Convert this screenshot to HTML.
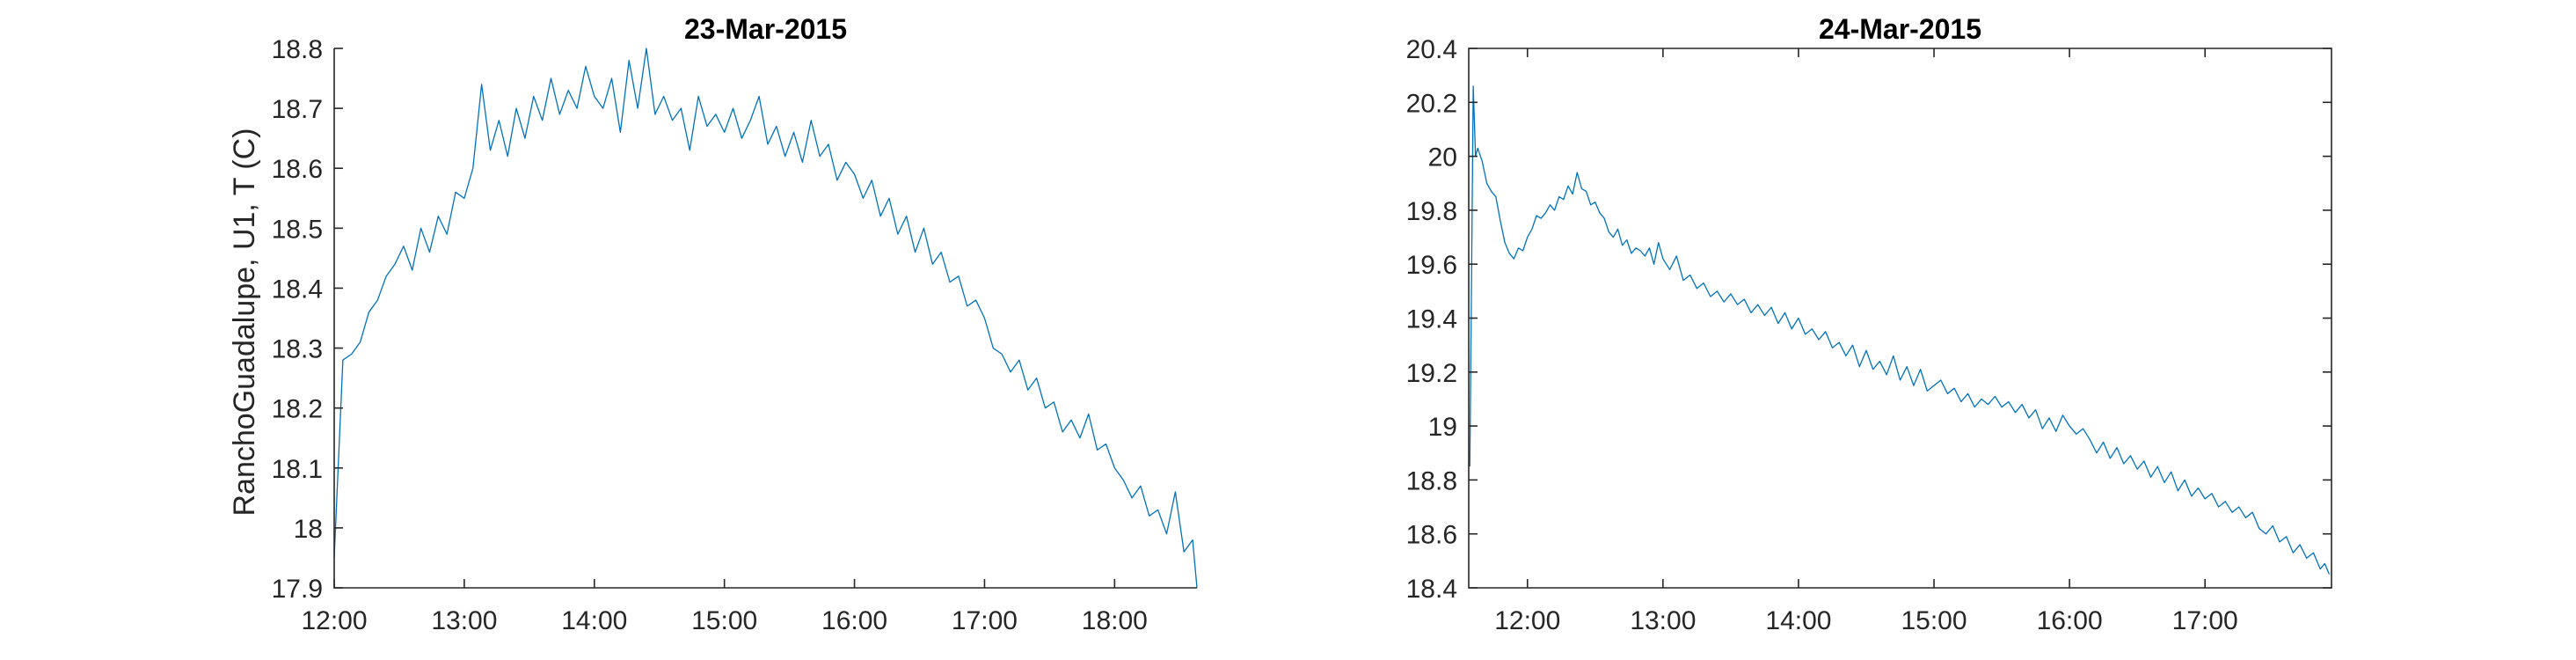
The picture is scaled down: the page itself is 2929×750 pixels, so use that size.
<!DOCTYPE html>
<html><head><meta charset="utf-8"><style>
html,body{margin:0;padding:0;background:#fff;}
svg{display:block;font-family:"Liberation Sans",Arial,sans-serif;}
</style></head><body>
<svg id="chart" width="2929" height="750" viewBox="0 0 2929 750" xmlns="http://www.w3.org/2000/svg">
<rect width="2929" height="750" fill="#fff"/>
</svg>
<script>
// ---- Panel 1 data (23-Mar-2015), minutes since 12:00 ----
const leftTimes = [0,4,8,12,16,20,24,28,32,36,40,44,48,52,56,60,64,68,72,76,80,84,88,92,96,100,104,108,112,116,120,124,128,132,136,140,144,148,152,156,160,164,168,172,176,180,184,188,192,196,200,204,208,212,216,220,224,228,232,236,240,244,248,252,256,260,264,268,272,276,280,284,288,292,296,300,304,308,312,316,320,324,328,332,336,340,344,348,352,356,360,364,368,372,376,380,384,388,392,396,398];
const leftTemps = [17.95,18.28,18.29,18.31,18.36,18.38,18.42,18.44,18.47,18.43,18.50,18.46,18.52,18.49,18.56,18.55,18.60,18.74,18.63,18.68,18.62,18.70,18.65,18.72,18.68,18.75,18.69,18.73,18.70,18.77,18.72,18.70,18.75,18.66,18.78,18.70,18.80,18.69,18.72,18.68,18.70,18.63,18.72,18.67,18.69,18.66,18.70,18.65,18.68,18.72,18.64,18.67,18.62,18.66,18.61,18.68,18.62,18.64,18.58,18.61,18.59,18.55,18.58,18.52,18.55,18.49,18.52,18.46,18.50,18.44,18.46,18.41,18.42,18.37,18.38,18.35,18.30,18.29,18.26,18.28,18.23,18.25,18.20,18.21,18.16,18.18,18.15,18.19,18.13,18.14,18.10,18.08,18.05,18.07,18.02,18.03,17.99,18.06,17.96,17.98,17.90];
const leftYTicks = [17.9,18,18.1,18.2,18.3,18.4,18.5,18.6,18.7,18.8];
const leftYTickLabels = ["17.9","18","18.1","18.2","18.3","18.4","18.5","18.6","18.7","18.8"];
const leftXTicks = [0,60,120,180,240,300,360];
const leftXTickLabels = ["12:00","13:00","14:00","15:00","16:00","17:00","18:00"];

// ---- Panel 2 data (24-Mar-2015), minutes since midnight ----
const rightTimes = [694.5,696,697,698,700,702,704,706,708,710,712,714,716,718,720,722,724,726,728,730,732,734,736,738,740,742,744,746,748,750,752,754,756,758,760,762,764,766,768,770,772,774,776,778,780,783,786,789,792,795,798,801,804,807,810,813,816,819,822,825,828,831,834,837,840,843,846,849,852,855,858,861,864,867,870,873,876,879,882,885,888,891,894,897,900,903,906,909,912,915,918,921,924,927,930,933,936,939,942,945,948,951,954,957,960,963,966,969,972,975,978,981,984,987,990,993,996,999,1002,1005,1008,1011,1014,1017,1020,1023,1026,1029,1032,1035,1038,1041,1044,1047,1050,1053,1056,1059,1062,1065,1068,1071,1073,1075];
const rightTemps = [18.85,20.26,20.00,20.03,19.98,19.90,19.87,19.85,19.76,19.68,19.64,19.62,19.66,19.65,19.70,19.73,19.78,19.77,19.79,19.82,19.80,19.85,19.84,19.89,19.86,19.94,19.88,19.87,19.82,19.83,19.79,19.77,19.72,19.70,19.73,19.67,19.69,19.64,19.66,19.65,19.63,19.66,19.60,19.68,19.62,19.58,19.63,19.54,19.56,19.51,19.53,19.48,19.50,19.46,19.49,19.45,19.47,19.42,19.45,19.41,19.44,19.38,19.42,19.36,19.40,19.34,19.36,19.32,19.35,19.29,19.31,19.26,19.30,19.22,19.28,19.21,19.24,19.19,19.26,19.17,19.22,19.15,19.21,19.13,19.15,19.17,19.12,19.14,19.09,19.12,19.07,19.10,19.08,19.11,19.07,19.09,19.05,19.08,19.03,19.06,18.99,19.03,18.98,19.04,19.00,18.97,18.99,18.95,18.90,18.94,18.88,18.92,18.86,18.89,18.84,18.87,18.81,18.85,18.79,18.83,18.76,18.80,18.74,18.77,18.73,18.75,18.70,18.72,18.68,18.70,18.66,18.68,18.62,18.60,18.63,18.57,18.59,18.53,18.56,18.51,18.53,18.47,18.49,18.45];
const rightYTicks = [18.4,18.6,18.8,19,19.2,19.4,19.6,19.8,20,20.2,20.4];
const rightYTickLabels = ["18.4","18.6","18.8","19","19.2","19.4","19.6","19.8","20","20.2","20.4"];
const rightXTicks = [720,780,840,900,960,1020];
const rightXTickLabels = ["12:00","13:00","14:00","15:00","16:00","17:00"];

const NS = "http://www.w3.org/2000/svg";
const svg = document.getElementById('chart');
function mk(tag, attrs, parent){
  const e = document.createElementNS(NS, tag);
  for (const k in attrs) e.setAttribute(k, attrs[k]);
  (parent||svg).appendChild(e);
  return e;
}

function panel(opts){
  const {x0,x1,y0,y1,xmin,xmax,ymin,ymax,times,temps,yt,ytl,xt,xtl,title,box,id} = opts;
  const g = mk('g', {});
  
  
  const sx = v => x0 + (v - xmin) / (xmax - xmin) * (x1 - x0);
  const sy = v => y1 - (v - ymin) / (ymax - ymin) * (y1 - y0);
  const tl = 10;
  let d = '';
  times.forEach((t,i)=>{ d += (i?'L':'M') + sx(t).toFixed(2) + ' ' + sy(temps[i]).toFixed(2); });
  const line = mk('path', {d:d, fill:'none', stroke:'#0072BD', 'stroke-width':1.3, 'stroke-linejoin':'round'}, g);
  
  
  const ax = mk('path', {d:`M${x0} ${y0}L${x0} ${y1}L${x1} ${y1}` + (box?`L${x1} ${y0}Z`:''), fill:'none', stroke:'#262626', 'stroke-width':1.6}, g);
  
  
  yt.forEach((v,i)=>{
    const y = sy(v);
    mk('line', {x1:x0, x2:x0+tl, y1:y, y2:y, stroke:'#262626','stroke-width':1.6}, g);
    if (box) mk('line', {x1:x1, x2:x1-tl, y1:y, y2:y, stroke:'#262626','stroke-width':1.6}, g);
    const t = mk('text', {x:x0-13, y:y+11, 'text-anchor':'end', 'font-size':30, fill:'#262626'}, g);
    t.textContent = ytl[i];
    
    
  });
  xt.forEach((v,i)=>{
    const x = sx(v);
    mk('line', {x1:x, x2:x, y1:y1, y2:y1-tl, stroke:'#262626','stroke-width':1.6}, g);
    if (box) mk('line', {x1:x, x2:x, y1:y0, y2:y0+tl, stroke:'#262626','stroke-width':1.6}, g);
    const t = mk('text', {x:x, y:y1+47, 'text-anchor':'middle', 'font-size':30, fill:'#262626'}, g);
    t.textContent = xtl[i];
    
    
  });
  const tt = mk('text', {x:(x0+x1)/2, y:44, 'text-anchor':'middle', 'font-size':32, 'font-weight':'bold', fill:'#000'}, g);
  tt.textContent = title;
  
  
}

panel({id:'panel-23-mar', x0:380, x1:1361, y0:55, y1:668, xmin:0, xmax:398, ymin:17.9, ymax:18.8,
  times:leftTimes, temps:leftTemps, yt:leftYTicks, ytl:leftYTickLabels, xt:leftXTicks, xtl:leftXTickLabels,
  title:'23-Mar-2015', box:false});
panel({id:'panel-24-mar', x0:1670, x1:2651, y0:55, y1:668, xmin:694, xmax:1076, ymin:18.4, ymax:20.4,
  times:rightTimes, temps:rightTemps, yt:rightYTicks, ytl:rightYTickLabels, xt:rightXTicks, xtl:rightXTickLabels,
  title:'24-Mar-2015', box:true});

const yl = mk('text', {x:0, y:0, 'text-anchor':'middle', 'font-size':34, fill:'#262626', transform:'translate(289,366) rotate(-90)'});
yl.textContent = 'RanchoGuadalupe, U1, T (C)';


</script>
</body></html>
